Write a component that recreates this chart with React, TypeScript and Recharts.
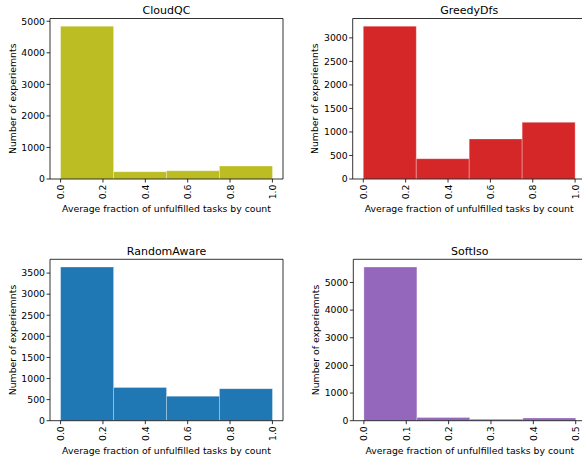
import React from "react";
import { ComposedChart, Bar, XAxis, YAxis, Label } from "recharts";

// ---- data ----
const cloudQCBins = [0.125, 0.375, 0.625, 0.875];
const cloudQCCounts = [4845, 231, 262, 412];

const greedyDfsBins = [0.125, 0.375, 0.625, 0.875];
const greedyDfsCounts = [3250, 432, 852, 1205];

const randomAwareBins = [0.125, 0.375, 0.625, 0.875];
const randomAwareCounts = [3645, 790, 582, 760];

const softIsoBins = [0.0625, 0.1875, 0.3125, 0.4375];
const softIsoCounts = [5560, 115, 55, 100];

const xTicksUnit = [0, 0.2, 0.4, 0.6, 0.8, 1.0];
const xTicksHalf = [0, 0.1, 0.2, 0.3, 0.4, 0.5];
const yTicks5000 = [0, 1000, 2000, 3000, 4000, 5000];
const yTicks3000 = [0, 500, 1000, 1500, 2000, 2500, 3000];
const yTicks3500 = [0, 500, 1000, 1500, 2000, 2500, 3000, 3500];

const FONT = "DejaVu Sans";
const Y_LABEL = "Number of experiemnts";
const X_LABEL = "Average fraction of unfulfilled tasks by count";

const toRows = (bins: number[], counts: number[]) =>
  bins.map((b, i) => ({ x: b, count: counts[i] }));

const XTick = (props: any) => {
  const { x, y, payload } = props;
  return (
    <text
      x={x}
      y={y}
      transform={`rotate(-90, ${x}, ${y})`}
      textAnchor="end"
      dominantBaseline="central"
      fontFamily={FONT}
      fontSize={9.3}
      fill="#000"
    >
      {Number(payload.value).toFixed(1)}
    </text>
  );
};

type PanelProps = {
  title: string;
  bins: number[];
  counts: number[];
  color: string;
  xTicks: number[];
  xDomain: [number, number];
  yTicks: number[];
  left: number;
  top: number;
  width: number;
  height: number;
  yAxisWidth: number;
  plotTop: number;
  xAxisHeight: number;
};

const TOP_H = 4;

const Panel = (p: PanelProps) => {
  const data = toRows(p.bins, p.counts);
  const rightWidth = p.width - p.yAxisWidth - 233;
  return (
    <div style={{ position: "absolute", left: p.left, top: p.top }}>
      <ComposedChart
        width={p.width}
        height={p.height}
        data={data}
        margin={{ top: p.plotTop - TOP_H, right: 0, bottom: 0, left: 0 }}
        barCategoryGap={0}
        barGap={0}
      >
        <XAxis
          xAxisId="main"
          dataKey="x"
          type="number"
          domain={p.xDomain}
          ticks={p.xTicks}
          interval={0}
          allowDataOverflow
          height={p.xAxisHeight}
          tickSize={3.5}
          tickMargin={2}
          axisLine={{ stroke: "#000", strokeWidth: 0.8 }}
          tickLine={{ stroke: "#000", strokeWidth: 0.8 }}
          tick={<XTick />}
        >
          <Label
            content={(lp: any) => {
              const vb = lp.viewBox;
              return (
                <text
                  x={vb.x + vb.width / 2}
                  y={vb.y + 33}
                  textAnchor="middle"
                  fontFamily={FONT}
                  fontSize={9.3}
                  fill="#000"
                >
                  {X_LABEL}
                </text>
              );
            }}
          />
        </XAxis>
        <XAxis
          xAxisId="top"
          dataKey="x"
          orientation="top"
          type="number"
          domain={p.xDomain}
          allowDataOverflow
          height={TOP_H}
          tick={false}
          tickLine={false}
          axisLine={{ stroke: "#000", strokeWidth: 0.8 }}
        >
          <Label
            content={(lp: any) => {
              const vb = lp.viewBox;
              return (
                <text
                  x={vb.x + vb.width / 2}
                  y={vb.y + vb.height - 4.5}
                  textAnchor="middle"
                  fontFamily={FONT}
                  fontSize={11}
                  fill="#000"
                >
                  {p.title}
                </text>
              );
            }}
          />
        </XAxis>
        <YAxis
          yAxisId="main"
          type="number"
          domain={[0, (m: number) => m * 1.05]}
          ticks={p.yTicks}
          interval={0}
          allowDataOverflow
          width={p.yAxisWidth}
          tickSize={3.5}
          tickMargin={1.5}
          axisLine={{ stroke: "#000", strokeWidth: 0.8 }}
          tickLine={{ stroke: "#000", strokeWidth: 0.8 }}
          tick={{ fontFamily: FONT, fontSize: 9.3, fill: "#000" }}
        >
          <Label
            content={(lp: any) => {
              const vb = lp.viewBox;
              const cx = vb.x + vb.width - 38;
              const cy = vb.y + vb.height / 2;
              return (
                <text
                  x={cx}
                  y={cy}
                  transform={`rotate(-90, ${cx}, ${cy})`}
                  textAnchor="middle"
                  dominantBaseline="central"
                  fontFamily={FONT}
                  fontSize={9.3}
                  fill="#000"
                >
                  {Y_LABEL}
                </text>
              );
            }}
          />
        </YAxis>
        <YAxis
          yAxisId="right"
          orientation="right"
          type="number"
          domain={[0, 1]}
          width={rightWidth}
          tick={false}
          tickLine={false}
          axisLine={{ stroke: "#000", strokeWidth: 0.8 }}
        />
        <Bar
          xAxisId="main"
          yAxisId="main"
          dataKey="count"
          fill={p.color}
          stroke="#ffffff"
          strokeOpacity={0.5}
          strokeWidth={0.6}
          isAnimationActive={false}
        />
        <Bar
          xAxisId="top"
          yAxisId="right"
          dataKey="none"
          fill="none"
          isAnimationActive={false}
        />
      </ComposedChart>
    </div>
  );
};

export default function App() {
  return (
    <div
      style={{
        position: "absolute",
        left: 0,
        top: 0,
        width: 582,
        height: 460,
        overflow: "hidden",
        background: "#fff",
      }}
    >
      <Panel
        title="CloudQC"
        bins={cloudQCBins}
        counts={cloudQCCounts}
        color="#bcbd22"
        xTicks={xTicksUnit}
        xDomain={[-0.05, 1.05]}
        yTicks={yTicks5000}
        left={0}
        top={0}
        width={291}
        height={230}
        yAxisWidth={50}
        plotTop={18.5}
        xAxisHeight={51}
      />
      <Panel
        title="GreedyDfs"
        bins={greedyDfsBins}
        counts={greedyDfsCounts}
        color="#d62728"
        xTicks={xTicksUnit}
        xDomain={[-0.05, 1.05]}
        yTicks={yTicks3000}
        left={291}
        top={0}
        width={300}
        height={230}
        yAxisWidth={61.7}
        plotTop={18.5}
        xAxisHeight={51}
      />
      <Panel
        title="RandomAware"
        bins={randomAwareBins}
        counts={randomAwareCounts}
        color="#1f77b4"
        xTicks={xTicksUnit}
        xDomain={[-0.05, 1.05]}
        yTicks={yTicks3500}
        left={0}
        top={230}
        width={291}
        height={230}
        yAxisWidth={50}
        plotTop={29.3}
        xAxisHeight={39.3}
      />
      <Panel
        title="SoftIso"
        bins={softIsoBins}
        counts={softIsoCounts}
        color="#9467bd"
        xTicks={xTicksHalf}
        xDomain={[-0.025, 0.525]}
        yTicks={yTicks5000}
        left={291}
        top={230}
        width={300}
        height={230}
        yAxisWidth={62.3}
        plotTop={29.3}
        xAxisHeight={39.3}
      />
    </div>
  );
}
